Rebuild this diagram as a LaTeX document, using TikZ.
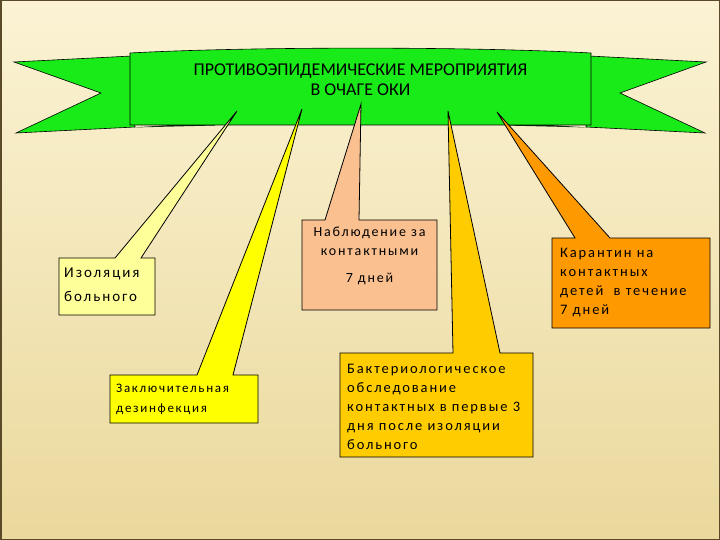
\documentclass[tikz,border=0pt]{standalone}
\usepackage{fontspec}
\setmainfont{Carlito}
\newfontfamily\spacedfont[LetterSpace=13]{Carlito}
\usetikzlibrary{calc}
\definecolor{bgtop}{RGB}{251,243,212}
\definecolor{bgbot}{RGB}{234,216,156}
\definecolor{frame}{RGB}{90,74,40}
\definecolor{ribbon}{RGB}{25,235,25}
\definecolor{fold}{RGB}{20,50,20}
\definecolor{paleyel}{RGB}{255,255,153}
\definecolor{yel}{RGB}{255,255,0}
\definecolor{peach}{RGB}{250,192,143}
\definecolor{gold}{RGB}{255,204,0}
\definecolor{orng}{RGB}{255,153,0}
\tikzset{
  boxframe/.style={inner sep=0pt, outer sep=0pt, anchor=north west},
  callout/.style={draw=black, line width=0.8pt, line join=miter},
  txt/.style={inner sep=0pt, anchor=north west, align=left, text=black},
}
\begin{document}
\begin{tikzpicture}[x=1pt,y=-1pt]
\useasboundingbox (0,0) rectangle (720,540);
% page background
\shade[top color=bgtop, bottom color=bgbot] (0,0) rectangle (720,540);
\draw[frame, line width=1.5pt] (0.75,0.75) rectangle (719.25,539.25);

% ribbon wings
\draw[fill=ribbon, line width=0.6pt] (132,56) -- (14,62) -- (101,93) -- (16,133) -- (135,127) -- cycle;
\draw[fill=ribbon, line width=0.6pt] (589,56) -- (706,62) -- (620,93) -- (705,133) -- (586,127) -- cycle;
\fill[fold] (133,127.5) -- (215,122) -- (215,125.5) -- cycle;
\fill[fold] (588,127.5) -- (505,122) -- (505,125.5) -- cycle;
% ribbon centre
\node[inner sep=0pt, outer sep=0pt, minimum width=461pt, minimum height=72pt, anchor=south west] (banner) at (130,125) {};
\draw[fill=ribbon, line width=0.6pt] (banner.south west) -- (130,53) .. controls (250,46.5) and (471,46.5) .. (591,53) -- (banner.south east) -- cycle;
\node[align=center, font=\fontsize{18}{20}\selectfont, inner sep=0pt] (title) at (360.5,80)
  {ПРОТИВОЭПИДЕМИЧЕСКИЕ МЕРОПРИЯТИЯ\\В ОЧАГЕ ОКИ};

% tips of the callouts
\coordinate (t1) at (237,111);
\coordinate (t2) at (302,109);
\coordinate (t3) at (361,104);
\coordinate (t4) at (448,111);
\coordinate (t5) at (497,112);

% box 1
\node[boxframe, minimum width=96pt, minimum height=57pt] (iso) at (59,258) {};
\draw[callout, fill=paleyel] (iso.north west) -- ($(iso.north west)+(56,0)$) -- (t1) -- ($(iso.north west)+(82,0)$) -- (iso.north east) -- (iso.south east) -- (iso.south west) -- cycle;
\node[txt, font=\spacedfont\fontsize{15}{24}\selectfont] (iso-t) at ($(iso.north west)+(5,10)$) {Изоляция\\больного};

% box 2
\node[boxframe, minimum width=148pt, minimum height=48pt] (dez) at (110,375) {};
\draw[callout, fill=yel] (dez.north west) -- ($(dez.north west)+(87,0)$) -- (t2) -- ($(dez.north west)+(123,0)$) -- (dez.north east) -- (dez.south east) -- (dez.south west) -- cycle;
\node[txt, font=\spacedfont\fontsize{13}{20}\selectfont] (dez-t) at ($(dez.north west)+(6,9)$) {Заключительная\\дезинфекция};

% box 3
\node[boxframe, minimum width=135pt, minimum height=90pt] (obs) at (302,220) {};
\draw[callout, fill=peach] (obs.north west) -- ($(obs.north west)+(23,0)$) -- (t3) -- ($(obs.north west)+(57,0)$) -- (obs.north east) -- (obs.south east) -- (obs.south west) -- cycle;
\node[txt, anchor=north, align=center, font=\spacedfont\fontsize{14}{19}\selectfont] (obs-t) at ($(obs.north)+(0,7)$) {Наблюдение за\\контактными\\[8pt]7 дней};

% box 4
\node[boxframe, minimum width=193pt, minimum height=104pt] (bac) at (340,353) {};
\draw[callout, fill=gold] (bac.north west) -- ($(bac.north west)+(113,0)$) -- (t4) -- ($(bac.north west)+(160,0)$) -- (bac.north east) -- (bac.south east) -- (bac.south west) -- cycle;
\node[txt, font=\spacedfont\fontsize{14.5}{19}\selectfont] (bac-t) at ($(bac.north west)+(7,11)$) {Бактериологическое\\обследование\\контактных в первые 3\\дня после изоляции\\больного};

% box 5
\node[boxframe, minimum width=158pt, minimum height=90pt] (kar) at (552,238) {};
\draw[callout, fill=orng] (kar.north west) -- ($(kar.north west)+(23,0)$) -- (t5) -- ($(kar.north west)+(58,0)$) -- (kar.north east) -- (kar.south east) -- (kar.south west) -- cycle;
\node[txt, font=\spacedfont\fontsize{14.5}{19}\selectfont] (kar-t) at ($(kar.north west)+(8,10)$) {Карантин на\\контактных\\детей \ в течение\\7 дней};
\end{tikzpicture}
\end{document}
